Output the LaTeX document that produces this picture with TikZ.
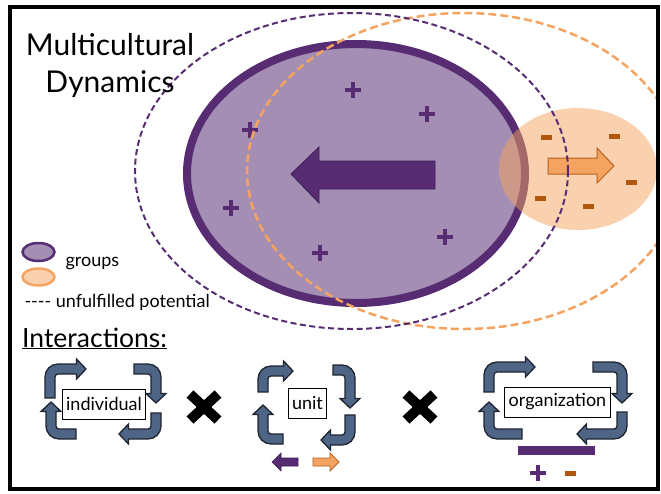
\documentclass[tikz,border=0pt]{standalone}
\usepackage{fontspec}
\setmainfont{Lato}
\usetikzlibrary{calc}
\usetikzlibrary{positioning}

\definecolor{grpPurple}{HTML}{572C73}
\definecolor{grpDeep}{HTML}{3E1F55}
\definecolor{grpLilac}{HTML}{A48EB4}
\definecolor{grpOrange}{HTML}{F4A460}
\definecolor{grpPeach}{HTML}{F9D1AF}
\definecolor{arrowRim}{HTML}{B5601C}
\definecolor{minusBrown}{HTML}{B0560F}
\definecolor{cycBlue}{HTML}{4F6585}
\definecolor{cycEdge}{HTML}{1E2430}

\tikzset{
  cycstyle/.style={fill=cycBlue, draw=cycEdge, line width=1.3},
  lblbox/.style={draw, line width=0.9, fill=white, minimum height=30, inner xsep=4, inner ysep=0,
    font=\fontsize{18}{20}\selectfont},
  pics/cycarrow/.style 2 args={code={
    \draw[cycstyle] (-5,-#1) -- (-5,-8) arc[start angle=180, end angle=90, radius=13]
      -- ({#2-9.5},5) -- ({#2-9.5},10) -- (#2,0) -- ({#2-9.5},-10) -- ({#2-9.5},-5)
      -- (8,-5) arc[start angle=90, end angle=180, radius=3] -- (5,-#1) -- cycle;
  }},
  pics/plussign/.style={code={
    \draw[grpPurple, line width=3.8] (-8,0) -- (8,0) (0,-8) -- (0,8);
  }},
  pics/minussign/.style={code={
    \fill[minusBrown] (-5.5,-2.5) rectangle (5.5,2.5);
  }},
  pics/xmark/.style={code={
    \draw[line width=10] (-14,-13) -- (14,13) (-14,13) -- (14,-13);
  }},
}

\begin{document}
\begin{tikzpicture}[x=1pt, y=1pt]
    \useasboundingbox (0,0) rectangle (661,-493);

    % groups
    \fill[grpLilac] (356,-173.5) ellipse[x radius=169, y radius=129.5];
    \draw[grpPurple, line width=8] (356,-173.5) ellipse[x radius=169, y radius=129.5];
    \fill[grpOrange, fill opacity=0.5] (578,-169) ellipse[x radius=79, y radius=61];

    \draw[fill=grpPurple, draw=grpDeep, line width=0.8]
      (291,-174) -- (319,-147) -- (319,-161) -- (435,-161) -- (435,-189) -- (319,-189) -- (319,-203) -- cycle;
    \draw[fill=grpOrange, draw=arrowRim, line width=1]
      (614,-166) -- (597,-148) -- (597,-158) -- (548,-158) -- (548,-174) -- (597,-174) -- (597,-183) -- cycle;

    \foreach \px/\py in {353/90, 427/114, 250/130, 231/208, 320/253, 445/237}
      \pic at (\px,-\py) {plussign};
    \foreach \mx/\my in {546/137, 614/136, 631/182, 540/198, 588/206}
      \pic at (\mx,-\my) {minussign};

    % unfulfilled potential
    \begin{scope}
      \clip (10,-7) rectangle (658,-489);
      \draw[grpOrange, line width=2.5, dash pattern=on 8 off 4] (464,-171) ellipse[x radius=217, y radius=158];
    \end{scope}
    \draw[grpPurple, line width=2, dash pattern=on 6 off 3.5] (351.5,-171) ellipse[x radius=216.5, y radius=158];

    \draw[line width=4] (10,-7) rectangle (658,-489);

    % title and legend
    \node[anchor=base, font=\fontsize{30}{36}\selectfont] (title1) at (110,-55) {Multicultural};
    \node[anchor=base, font=\fontsize{30}{36}\selectfont] (title2) at ([yshift=-37]title1.base) {Dynamics};

    \draw[grpPurple, fill=grpLilac, line width=2.5] (38.5,-252) ellipse[x radius=16, y radius=9];
    \draw[grpOrange, fill=grpPeach, line width=2.5] (38.5,-277) ellipse[x radius=16, y radius=8.5];
    \node[anchor=west, font=\fontsize{18}{20}\selectfont] (grp) at (62,-263) {groups};
    \node[anchor=west, font=\fontsize{18}{20}\selectfont] (pot) at (21,-302) {{-}{-}{-}{-} unfulfilled potential};

    % interactions
    \node[anchor=base west, inner sep=0, font=\fontsize{26.5}{30}\selectfont] (inter) at (22,-347) {\underline{Interactions:}};

    \node[lblbox] (indiv) at (104,-404) {individual};
    \pic at (50,-369) {cycarrow={29}{36}};
    \pic[rotate=-90] at (156,-369) {cycarrow={22}{34}};
    \pic[rotate=180] at (156,-434) {cycarrow={21}{37}};
    \pic[rotate=90] at (51,-434) {cycarrow={25}{32}};

    \pic at (204,-407) {xmark};

    \node[lblbox] (unit) at (307.5,-403) {unit};
    \pic at (263,-371) {cycarrow={21}{30}};
    \pic[rotate=-90] at (350,-370) {cycarrow={17}{38}};
    \pic[rotate=180] at (350,-440) {cycarrow={25}{29}};
    \pic[rotate=90] at (263,-439) {cycarrow={20}{34}};
    \draw[fill=grpPurple, draw=grpDeep, line width=0.6]
      (272,-462) -- (281,-453) -- (281,-458) -- (298,-458) -- (298,-466) -- (281,-466) -- (281,-471) -- cycle;
    \draw[fill=grpOrange, draw=arrowRim, line width=0.8]
      (339,-462) -- (330,-453) -- (330,-458) -- (313,-458) -- (313,-466) -- (330,-466) -- (330,-471) -- cycle;

    \pic at (420,-407) {xmark};

    \node[lblbox] (org) at (557.5,-402) {organization};
    \pic at (489,-367) {cycarrow={25}{46}};
    \pic[rotate=-90] at (622,-367) {cycarrow={29}{36}};
    \pic[rotate=180] at (622,-434) {cycarrow={22}{45}};
    \pic[rotate=90] at (489,-434) {cycarrow={33}{32}};
    \fill[grpPurple] (518,-446) rectangle (595,-455);
    \pic at (538,-473) {plussign};
    \pic at (570,-473) {minussign};
\end{tikzpicture}
\end{document}
